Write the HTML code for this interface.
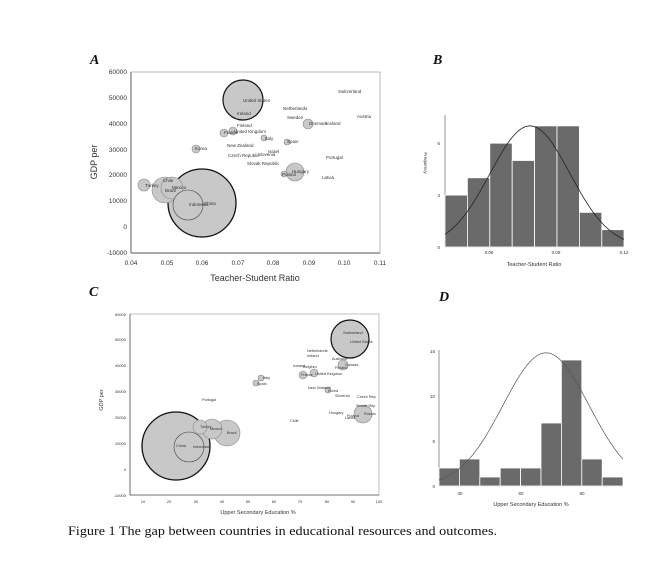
<!DOCTYPE html>
<html><head><meta charset="utf-8"><style>
html,body{margin:0;padding:0;background:#fff;}
svg{display:block;font-family:"Liberation Sans",sans-serif;}
</style></head><body>
<svg width="665" height="577" viewBox="0 0 665 577" xmlns="http://www.w3.org/2000/svg">
<rect width="665" height="577" fill="#fff"/>
<!-- Panel letters -->
<g font-family="Liberation Serif,serif" font-style="italic" font-weight="bold" font-size="14" fill="#111">
<text x="90" y="64">A</text><text x="433" y="64">B</text><text x="89" y="296">C</text><text x="439" y="301">D</text>
</g>

<!-- Panel A -->
<g>
<rect x="131" y="72" width="249" height="181" fill="none" stroke="#999" stroke-width="0.7"/>
<line x1="131" y1="72" x2="131" y2="253" stroke="#555" stroke-width="0.9"/>
<line x1="131" y1="253" x2="380" y2="253" stroke="#555" stroke-width="0.9"/>
<g font-size="6.5" fill="#333" text-anchor="end">
<text x="127" y="74">60000</text><text x="127" y="100">50000</text><text x="127" y="126">40000</text><text x="127" y="152">30000</text><text x="127" y="177">20000</text><text x="127" y="203">10000</text><text x="127" y="229">0</text><text x="127" y="255">-10000</text>
</g>
<g font-size="6.5" fill="#333" text-anchor="middle">
<text x="131" y="265">0.04</text><text x="167" y="265">0.05</text><text x="202" y="265">0.06</text><text x="238" y="265">0.07</text><text x="273" y="265">0.08</text><text x="309" y="265">0.09</text><text x="344" y="265">0.10</text><text x="380" y="265">0.11</text>
</g>
<text x="255" y="281" font-size="9" fill="#333" text-anchor="middle">Teacher-Student Ratio</text>
<text transform="translate(97,162) rotate(-90)" font-size="9" fill="#333" text-anchor="middle">GDP per</text>
<g fill="#c8c8c8" stroke="#888" stroke-width="0.6">
<circle cx="202" cy="203" r="34" stroke="#111" stroke-width="1.3"/>
<circle cx="243" cy="100" r="20" stroke="#111" stroke-width="1.2"/>
<circle cx="165" cy="190" r="13"/>
<circle cx="172" cy="188" r="11"/>
<circle cx="188" cy="205" r="15" stroke="#444"/>
<circle cx="144" cy="185" r="6"/>
<circle cx="295" cy="172" r="9"/>
<circle cx="308" cy="124" r="5"/>
<circle cx="224" cy="133" r="4"/><circle cx="233" cy="131" r="4"/><circle cx="196" cy="149" r="4"/>
<circle cx="264" cy="138" r="3"/><circle cx="287" cy="142" r="3"/><circle cx="284" cy="174" r="3"/>
</g>
<g font-size="4.5" fill="#333">
<text x="338" y="93">Switzerland</text><text x="243" y="102">United States</text><text x="237" y="115">Ireland</text>
<text x="283" y="110">Netherlands</text><text x="287" y="119">Sweden</text><text x="357" y="118">Austria</text>
<text x="237" y="127">Finland</text><text x="309" y="125">Denmark</text><text x="326" y="125">Iceland</text>
<text x="224" y="134">France</text><text x="234" y="133">United Kingdom</text><text x="265" y="140">Italy</text><text x="287" y="143">Spain</text>
<text x="195" y="150">Korea</text><text x="227" y="147">New Zealand</text><text x="228" y="157">Czech Republic</text>
<text x="258" y="156">Slovenia</text><text x="268" y="153">Israel</text><text x="326" y="159">Portugal</text>
<text x="247" y="165">Slovak Republic</text><text x="292" y="173">Hungary</text><text x="282" y="176">Poland</text>
<text x="322" y="179">Latvia</text><text x="145" y="187">Turkey</text><text x="163" y="182">Chile</text>
<text x="172" y="189">Mexico</text><text x="165" y="192">Brazil</text><text x="189" y="206">Indonesia</text><text x="204" y="205">China</text>
</g>
</g>

<!-- Panel B -->
<g>
<line x1="445" y1="115" x2="445" y2="247" stroke="#666" stroke-width="0.7"/>
<line x1="445" y1="247" x2="624" y2="247" stroke="#666" stroke-width="0.7"/>
<g fill="#6a6a6a" stroke="#fff" stroke-width="0.8">
<rect x="445" y="195.1" width="22.4" height="51.9"/>
<rect x="467.4" y="177.8" width="22.4" height="69.2"/>
<rect x="489.8" y="143.2" width="22.4" height="103.8"/>
<rect x="512.2" y="160.5" width="22.4" height="86.5"/>
<rect x="534.6" y="125.9" width="22.4" height="121.1"/>
<rect x="557" y="125.9" width="22.4" height="121.1"/>
<rect x="579.4" y="212.4" width="22.4" height="34.6"/>
<rect x="601.8" y="229.7" width="22.2" height="17.3"/>
</g>
<path id="cb" fill="none" stroke="#222" stroke-width="0.8" d=""/>
<g font-size="4.5" fill="#333">
<text x="440" y="249" text-anchor="end">0</text><text x="440" y="197" text-anchor="end">3</text><text x="440" y="145" text-anchor="end">6</text>
<text x="489" y="254" text-anchor="middle">0.06</text><text x="556" y="254" text-anchor="middle">0.09</text><text x="624" y="254" text-anchor="middle">0.12</text>
</g>
<text x="534" y="266" font-size="5.5" fill="#333" text-anchor="middle">Teacher-Student Ratio</text>
<text transform="translate(424,163) rotate(90)" font-size="4.5" fill="#333" text-anchor="middle">Frequency</text>
</g>

<!-- Panel C -->
<g>
<rect x="130" y="314" width="249" height="181" fill="none" stroke="#999" stroke-width="0.6"/>
<line x1="130" y1="314" x2="130" y2="495" stroke="#555" stroke-width="0.8"/>
<line x1="130" y1="495" x2="379" y2="495" stroke="#555" stroke-width="0.8"/>
<g font-size="4" fill="#333" text-anchor="end">
<text x="126" y="316">60000</text><text x="126" y="341">50000</text><text x="126" y="367">40000</text><text x="126" y="393">30000</text><text x="126" y="419">20000</text><text x="126" y="445">10000</text><text x="126" y="471">0</text><text x="126" y="497">-10000</text>
</g>
<g font-size="4" fill="#333" text-anchor="middle">
<text x="143" y="503">10</text><text x="169" y="503">20</text><text x="196" y="503">30</text><text x="222" y="503">40</text><text x="248" y="503">50</text><text x="274" y="503">60</text><text x="300" y="503">70</text><text x="327" y="503">80</text><text x="353" y="503">90</text><text x="379" y="503">100</text>
</g>
<text x="258" y="514" font-size="5.5" fill="#333" text-anchor="middle">Upper Secondary Education %</text>
<text transform="translate(103,400) rotate(-90)" font-size="5.5" fill="#333" text-anchor="middle">GDP per</text>
<g fill="#c8c8c8" stroke="#888" stroke-width="0.6">
<circle cx="176" cy="446" r="34" stroke="#111" stroke-width="1.3"/>
<circle cx="350" cy="339" r="19" stroke="#111" stroke-width="1.2"/>
<circle cx="227" cy="433" r="13"/>
<circle cx="212" cy="429" r="10"/>
<circle cx="200" cy="427" r="7"/>
<circle cx="189" cy="447" r="15" stroke="#444"/>
<circle cx="363" cy="414" r="9"/>
<circle cx="343" cy="365" r="5"/><circle cx="303" cy="375" r="4"/><circle cx="314" cy="373" r="4"/>
<circle cx="261" cy="378" r="3"/><circle cx="256" cy="383" r="3"/><circle cx="328" cy="390" r="3"/>
</g>
<g font-size="3.8" fill="#333">
<text x="343" y="334">Switzerland</text><text x="350" y="343">United States</text><text x="307" y="352">Netherlands</text>
<text x="307" y="357">Ireland</text><text x="332" y="360">Australia</text><text x="345" y="366">Canada</text>
<text x="293" y="367">Iceland</text><text x="303" y="368">Belgium</text><text x="335" y="369">Finland</text>
<text x="301" y="376">France</text><text x="315" y="375">United Kingdom</text><text x="263" y="379">Italy</text><text x="257" y="385">Spain</text>
<text x="308" y="389">New Zealand</text><text x="328" y="392">Korea</text><text x="335" y="397">Slovenia</text>
<text x="357" y="398">Czech Rep</text><text x="202" y="401">Portugal</text><text x="356" y="407">Slovak Rep</text>
<text x="329" y="414">Hungary</text><text x="347" y="417">Poland</text><text x="364" y="415">Russia</text><text x="345" y="419">Latvia</text>
<text x="290" y="422">Chile</text><text x="200" y="428">Turkey</text><text x="210" y="430">Mexico</text><text x="227" y="434">Brazil</text>
<text x="176" y="447">China</text><text x="193" y="448">Indonesia</text>
</g>
</g>

<!-- Panel D -->
<g>
<line x1="439" y1="350" x2="439" y2="486" stroke="#666" stroke-width="0.7"/>
<line x1="439" y1="486" x2="623" y2="486" stroke="#666" stroke-width="0.7"/>
<g fill="#6a6a6a" stroke="#fff" stroke-width="0.8">
<rect x="439" y="468" width="20.4" height="18"/>
<rect x="459.4" y="459" width="20.4" height="27"/>
<rect x="479.8" y="477" width="20.4" height="9"/>
<rect x="500.2" y="468" width="20.4" height="18"/>
<rect x="520.6" y="468" width="20.4" height="18"/>
<rect x="541" y="423" width="20.4" height="63"/>
<rect x="561.4" y="360" width="20.4" height="126"/>
<rect x="581.8" y="459" width="20.4" height="27"/>
<rect x="602.2" y="477" width="20.8" height="9"/>
</g>
<path id="cd" fill="none" stroke="#555" stroke-width="0.7" d=""/>
<g font-size="4.5" fill="#333">
<text x="435" y="488" text-anchor="end">0</text><text x="435" y="443" text-anchor="end">5</text><text x="435" y="398" text-anchor="end">10</text><text x="435" y="353" text-anchor="end">15</text>
<text x="460" y="495" text-anchor="middle">30</text><text x="521" y="495" text-anchor="middle">60</text><text x="582" y="495" text-anchor="middle">90</text>
</g>
<text x="531" y="506" font-size="5.5" fill="#333" text-anchor="middle">Upper Secondary Education %</text>
</g>

<text x="68" y="535" font-family="Liberation Serif,serif" font-size="13" fill="#111" textLength="429" lengthAdjust="spacingAndGlyphs">Figure 1 The gap between countries in educational resources and outcomes.</text>

<script>
function g(id,x0,x1,mu,s,peak,y0,unit){var d="";for(var x=x0;x<=x1;x+=1){var v=peak*Math.exp(-(x-mu)*(x-mu)/(2*s*s));d+=(x==x0?"M":"L")+x+","+(y0-v*unit).toFixed(2);}document.getElementById(id).setAttribute("d",d);}
g("cb",445,624,530,40,7,247,17.3);
g("cd",439,623,546,43,14.8,486,9);
</script>
</svg>
</body></html>
